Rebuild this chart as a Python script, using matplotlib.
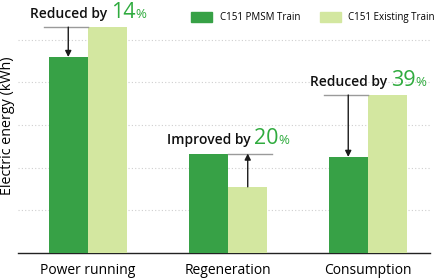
import matplotlib
matplotlib.use("Agg")
import matplotlib.pyplot as plt
from matplotlib.patches import Patch
import numpy as np

categories = ["Power running", "Regeneration", "Consumption"]
pmsm = [4.59, 2.33, 2.25]
existing = [5.29, 1.55, 3.70]
series_names = ["C151 PMSM Train", "C151 Existing Train"]
notes = [("Reduced by ", "14", "%"), ("Improved by ", "20", "%"), ("Reduced by ", "39", "%")]

DARK = "#37a146"
LIGHT = "#d3e7a0"
GTXT = "#2fab3e"
FONT = "Open Sans"

plt.rcParams['font.family'] = [FONT, 'DejaVu Sans']

fig = plt.figure(figsize=(4.4, 2.78), dpi=100)
W, H = 440, 278
ax = fig.add_axes([18 / W, (H - 253) / H, 412 / W, (253 - 15) / H])

x = np.arange(len(categories))
bw = 0.282
ax.bar(x - bw / 2, pmsm, bw, color=DARK, zorder=3)
ax.bar(x + bw / 2, existing, bw, color=LIGHT, zorder=3)

ax.set_xlim(-0.5, 2.443)
ax.set_ylim(0, 5.574)
ax.set_yticks([1, 2, 3, 4, 5])
ax.tick_params(axis='y', length=0, labelleft=False)
ax.yaxis.grid(True, color="#cfcfcf", linestyle=(0, (1, 2)), linewidth=0.8)
ax.set_axisbelow(True)
ax.set_xticks(x)
ax.set_xticklabels(categories, fontsize=10, color="#000000")
ax.tick_params(axis='x', length=0, pad=7)
for s in ["top", "right", "left"]:
    ax.spines[s].set_visible(False)
ax.spines["bottom"].set_color("#222222")
ax.spines["bottom"].set_linewidth(1.0)

fig.text(8 / W, 1 - 126 / H, "Electric energy (kWh)", rotation=90, fontsize=10.3,
         ha='center', va='center', color="#000000")

# legend
handles = [Patch(facecolor=DARK, edgecolor=DARK), Patch(facecolor=LIGHT, edgecolor=LIGHT)]
fig.legend(handles, series_names, loc='center left', bbox_to_anchor=(191 / W, 1 - 17.5 / H),
           ncol=2, frameon=False, fontsize=7.0, handlelength=2.2, handleheight=1.3,
           handletextpad=0.75, columnspacing=2.0, borderpad=0, borderaxespad=0)

# reference lines and arrows
for i in range(3):
    if i == 1:
        top = pmsm[i]
        ax.plot([x[i], x[i] + bw * 1.11], [top, top], color="#9a9a9a", lw=1.0, zorder=4)
        ax.annotate("", xy=(x[i] + bw / 2, top), xytext=(x[i] + bw / 2, existing[i]),
                    arrowprops=dict(arrowstyle="-|>", color="#1a1a1a", lw=1.0,
                                    mutation_scale=9, shrinkA=0, shrinkB=0), zorder=5)
    else:
        top = existing[i]
        ax.plot([x[i] - bw * 1.11, x[i]], [top, top], color="#9a9a9a", lw=1.0, zorder=4)
        ax.annotate("", xy=(x[i] - bw / 2, pmsm[i]), xytext=(x[i] - bw / 2, top),
                    arrowprops=dict(arrowstyle="-|>", color="#1a1a1a", lw=1.0,
                                    mutation_scale=9, shrinkA=0, shrinkB=0), zorder=5)

fig.canvas.draw()
r = fig.canvas.get_renderer()

def note(xc, ytop, parts):
    px, py = ax.transData.transform((xc, ytop))
    base = py + 9.5
    specs = [(parts[0], 10, "#111111", "semibold"), (parts[1], 15.5, GTXT, "medium"),
             (parts[2], 9.5, GTXT, "medium")]
    texts = []
    for s, fs, c, w in specs:
        t = fig.text(0, 0, s, fontsize=fs, color=c, fontweight=w, va='baseline', ha='left',
                     transform=None)
        texts.append(t)
    widths = [t.get_window_extent(r).width for t in texts]
    total = sum(widths)
    cur = px - total / 2
    for t, wd in zip(texts, widths):
        t.set_position((cur, base))
        cur += wd

for i in range(3):
    ytop = pmsm[i] if i == 1 else existing[i]
    note(x[i], ytop, notes[i])

fig.savefig("out.png", dpi=100)
